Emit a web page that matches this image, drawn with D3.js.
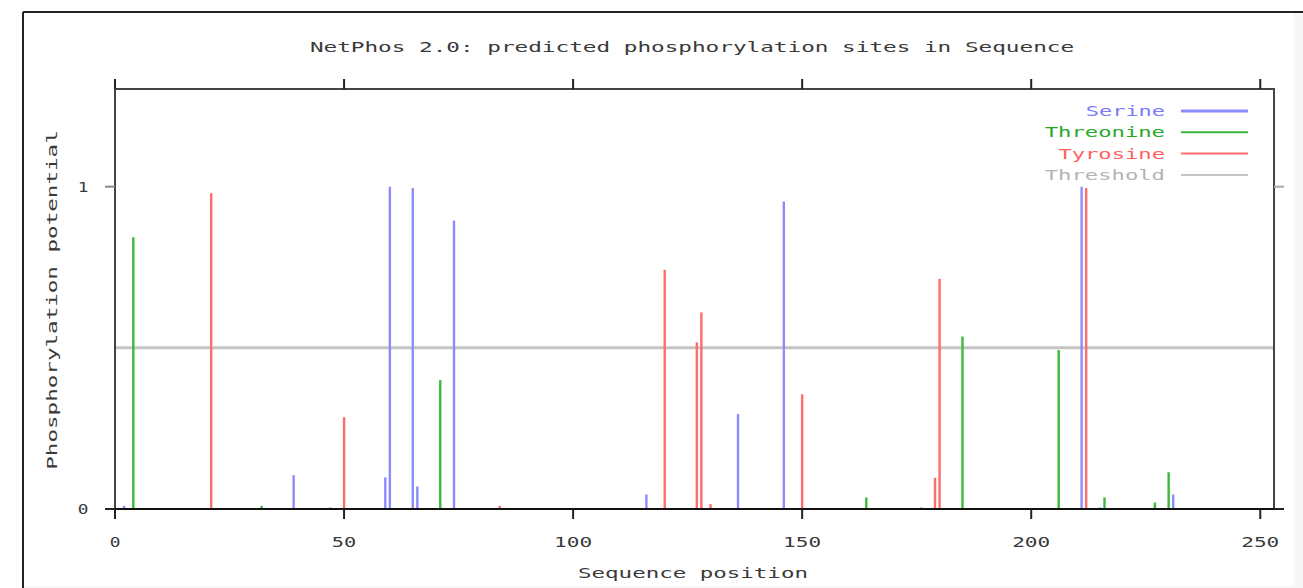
<!DOCTYPE html>
<html>
<head>
<meta charset="utf-8">
<script src="https://cdn.jsdelivr.net/npm/d3@7"></script>
<style>
  body { margin: 0; background: #fff; }
  text { font-family: 'DejaVu Sans Mono', monospace; fill: #3a3a3a; }
</style>
</head>
<body>
<div class="canvas"></div>
<script>
// sequence position / phosphorylation potential
const serine = [[2, 0.01], [39, 0.105], [47, 0.005], [59, 0.098], [60, 1.0], [65, 0.996],
    [66, 0.07], [74, 0.895], [116, 0.045], [136, 0.295], [146, 0.954], [176, 0.005],
    [211, 1.0], [215, 0.005], [231, 0.045]];
const threonine = [[4, 0.843], [32, 0.01], [71, 0.40], [164, 0.036], [185, 0.535],
    [206, 0.493], [216, 0.036], [227, 0.02], [230, 0.114]];
const tyrosine = [[21, 0.98], [50, 0.285], [84, 0.01], [120, 0.742], [127, 0.517],
    [128, 0.61], [130, 0.015], [150, 0.356], [179, 0.097], [180, 0.714], [212, 0.996]];
const threshold = 0.5;

const xTicks = [0, 50, 100, 150, 200, 250];
const yTicks = [0, 1];
const seriesNames = ['Serine', 'Threonine', 'Tyrosine', 'Threshold'];

const colours = {Serine: '#8c8cff', Threonine: '#3cb83c', Tyrosine: '#ff6c6c', Threshold: '#c4c4c4'};
const legendText = {Serine: '#7a7aff', Threonine: '#2aa82a', Tyrosine: '#ff6060', Threshold: '#b4b4b4'};

const width = 1303, height = 588;
const charW = 13.7;

const svg = d3.select('.canvas')
    .append('svg')
        .attr('width', width)
        .attr('height', height);

// grey strips where the screenshot was cut
svg.append('rect').attr('x', 1294).attr('y', 13).attr('width', 9).attr('height', height).attr('fill', '#f7f7f7');
svg.append('rect').attr('x', 23).attr('y', 586).attr('width', width).attr('height', 2).attr('fill', '#f7f7f7');

// outer frame (top and left only visible)
svg.append('line').attr('x1', 23).attr('y1', 12).attr('x2', width).attr('y2', 12)
    .attr('stroke', '#222').attr('stroke-width', 2);
svg.append('line').attr('x1', 23).attr('y1', 12).attr('x2', 23).attr('y2', height)
    .attr('stroke', '#222').attr('stroke-width', 2);

const plot = {left: 115, right: 1274, top: 89, bottom: 509};

const x = d3.scaleLinear().domain([0, 253]).range([plot.left, plot.right]);
const y = d3.scaleLinear().domain([0, 1.3]).range([plot.bottom, 90]);

// stretched monospace text, like the gnuplot bitmap font
const mono = (sel, s) => sel.text(s)
    .attr('font-size', 14)
    .attr('textLength', s.length * charW - 3)
    .attr('lengthAdjust', 'spacingAndGlyphs');

// threshold line
svg.append('line')
    .attr('x1', plot.left).attr('x2', plot.right)
    .attr('y1', y(threshold)).attr('y2', y(threshold))
    .attr('stroke', colours.Threshold).attr('stroke-width', 3);

// impulses
const series = [
    {name: 'Serine', data: serine},
    {name: 'Threonine', data: threonine},
    {name: 'Tyrosine', data: tyrosine}
];

series.forEach(s => {
    svg.selectAll(`line.${s.name}`)
        .data(s.data)
        .enter()
        .append('line')
        .attr('class', s.name)
        .attr('x1', d => x(d[0])).attr('x2', d => x(d[0]))
        .attr('y1', y(0)).attr('y2', d => y(d[1]))
        .attr('stroke', colours[s.name])
        .attr('stroke-width', 2.4);
});

// plot border
svg.append('rect')
    .attr('x', plot.left).attr('y', plot.top)
    .attr('width', plot.right - plot.left).attr('height', plot.bottom - plot.top)
    .attr('fill', 'none').attr('stroke', '#444').attr('stroke-width', 2);

svg.append('line')
    .attr('x1', plot.left).attr('x2', plot.right)
    .attr('y1', y(0)).attr('y2', y(0))
    .attr('stroke', '#111').attr('stroke-width', 2);

// ticks (outward, mirrored)
const tickLen = 10;
xTicks.forEach(t => {
    svg.append('line').attr('x1', x(t)).attr('x2', x(t))
        .attr('y1', plot.bottom).attr('y2', plot.bottom + tickLen)
        .attr('stroke', '#222').attr('stroke-width', 2);
    svg.append('line').attr('x1', x(t)).attr('x2', x(t))
        .attr('y1', plot.top).attr('y2', plot.top - tickLen)
        .attr('stroke', '#222').attr('stroke-width', 2);
});
yTicks.forEach(t => {
    svg.append('line').attr('x1', plot.left - tickLen).attr('x2', plot.left)
        .attr('y1', y(t)).attr('y2', y(t))
        .attr('stroke', t === 0 ? '#222' : '#888').attr('stroke-width', 2);
    svg.append('line').attr('x1', plot.right).attr('x2', plot.right + tickLen)
        .attr('y1', y(t)).attr('y2', y(t))
        .attr('stroke', t === 0 ? '#222' : '#aaa').attr('stroke-width', 2);
});

// tick labels
xTicks.forEach(t => {
    svg.append('text')
        .attr('x', x(t)).attr('y', 547)
        .attr('text-anchor', 'middle')
        .call(mono, String(t));
});
yTicks.forEach(t => {
    svg.append('text')
        .attr('x', 83).attr('y', y(t) + 5)
        .attr('text-anchor', 'middle')
        .call(mono, String(t));
});

// title & axis labels
svg.append('text')
    .attr('x', 692).attr('y', 52)
    .attr('text-anchor', 'middle')
    .call(mono, 'NetPhos 2.0: predicted phosphorylation sites in Sequence');

svg.append('text')
    .attr('x', 693).attr('y', 578)
    .attr('text-anchor', 'middle')
    .call(mono, 'Sequence position');

svg.append('text')
    .attr('transform', 'translate(57, 300) rotate(-90)')
    .attr('text-anchor', 'middle')
    .call(mono, 'Phosphorylation potential');

// legend
const legend = svg.selectAll('g.legend')
    .data(seriesNames)
    .enter()
    .append('g')
    .attr('class', 'legend')
    .attr('transform', (d, i) => `translate(0, ${111 + i * 21.3})`);

legend.append('text')
    .attr('x', 1165).attr('y', 5)
    .attr('text-anchor', 'end')
    .style('fill', d => legendText[d])
    .each(function(d) { mono(d3.select(this), d); });

legend.append('line')
    .attr('x1', 1181).attr('x2', 1248)
    .attr('y1', 0).attr('y2', 0)
    .attr('stroke', d => colours[d])
    .attr('stroke-width', d => d === 'Serine' ? 3 : 2);
</script>
</body>
</html>
